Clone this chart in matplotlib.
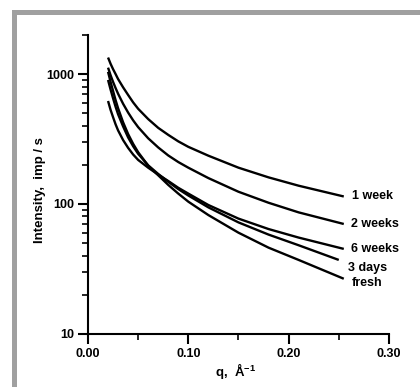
import matplotlib
matplotlib.use("Agg")
import matplotlib.pyplot as plt
from matplotlib.patches import Rectangle
from matplotlib.ticker import FixedLocator, LogLocator, NullFormatter

plt.rcParams['font.family'] = ['Liberation Sans', 'DejaVu Sans']
plt.rcParams['font.weight'] = 'bold'
plt.rcParams['mathtext.fontset'] = 'custom'
plt.rcParams['mathtext.rm'] = 'Liberation Sans:bold'
plt.rcParams['mathtext.bf'] = 'Liberation Sans:bold'

q = [0.02, 0.0225, 0.025, 0.0275, 0.03, 0.035, 0.04, 0.045, 0.05, 0.06,
     0.07, 0.08, 0.09, 0.10, 0.12, 0.15, 0.18, 0.21, 0.255]
q_3days = q[:-1] + [0.25]

week1 = [1340, 1200, 1090, 1000, 915, 790, 690, 605, 540, 450,
         385, 340, 303, 275, 235, 190, 160, 138, 114]
weeks2 = [1120, 980, 870, 780, 705, 590, 505, 440, 390, 320,
          272, 236, 210, 190, 158, 124, 102, 86, 70]
weeks6 = [620, 530, 465, 410, 368, 310, 270, 240, 218, 190,
          168, 150, 133, 120, 98, 77, 64, 55, 45]
days3 = [900, 760, 650, 560, 490, 395, 325, 278, 243, 198,
         170, 148, 130, 116, 94, 72, 58, 48, 37]
fresh = [1040, 870, 740, 630, 545, 425, 345, 290, 250, 197,
         166, 140, 120, 104, 82, 60, 46, 37, 26.5]

series = [week1, weeks2, weeks6, days3, fresh]
qs = [q, q, q, q_3days, q]
names = ['1 week', '2 weeks', '6 weeks', '3 days', 'fresh']
# small offsets of the end labels (points)
label_off = [(6, 0), (5, 0), (5, 0), (7, -6), (6, -3)]

fig = plt.figure(figsize=(4.2, 3.87), dpi=100)
ax = fig.add_axes([0.2095, 0.1377, 0.7165, 0.772])

for qq, ys, name, off in zip(qs, series, names, label_off):
    ax.plot(qq, ys, color='black', lw=1.7, solid_capstyle='butt')
    ax.annotate(name, (qq[-1], ys[-1]), xytext=off, textcoords='offset points',
                ha='left', va='center', fontsize=9, fontweight='bold')

ax.set_yscale('log')
ax.set_xlim(0, 0.30)
ax.set_ylim(10, 2000)
ax.xaxis.set_major_locator(FixedLocator([0, 0.1, 0.2, 0.3]))
ax.xaxis.set_minor_locator(FixedLocator([0.05, 0.15, 0.25]))
ax.set_xticklabels(['0.00', '0.10', '0.20', '0.30'])
ax.yaxis.set_major_locator(FixedLocator([10, 100, 1000]))
ax.yaxis.set_minor_locator(LogLocator(base=10, subs=range(2, 10)))
ax.yaxis.set_minor_formatter(NullFormatter())
ax.set_yticklabels(['10', '100', '1000'])

for s in ['top', 'right']:
    ax.spines[s].set_visible(False)
for s in ['left', 'bottom']:
    ax.spines[s].set_linewidth(1.5)
ax.tick_params(which='major', length=7, width=1.5, labelsize=9, pad=3)
ax.tick_params(which='minor', length=4, width=1.2)

ax.set_xlabel('q,  Å$^{-1}$', fontsize=9.5, fontweight='bold')
ax.xaxis.set_label_coords(0.49, -0.09)
ax.set_ylabel('Intensity,  imp / s', fontsize=9.5, fontweight='bold')
ax.yaxis.set_label_coords(-0.14, 0.48)

# grey frame of the original figure
fig.add_artist(Rectangle((12 / 420, 0), 5 / 420, 1 - 10 / 387, transform=fig.transFigure,
                         color='#a0a0a0', lw=0))
fig.add_artist(Rectangle((12 / 420, 1 - 15 / 387), 1, 5 / 387, transform=fig.transFigure,
                         color='#a0a0a0', lw=0))

fig.savefig('out.png', dpi=100)
